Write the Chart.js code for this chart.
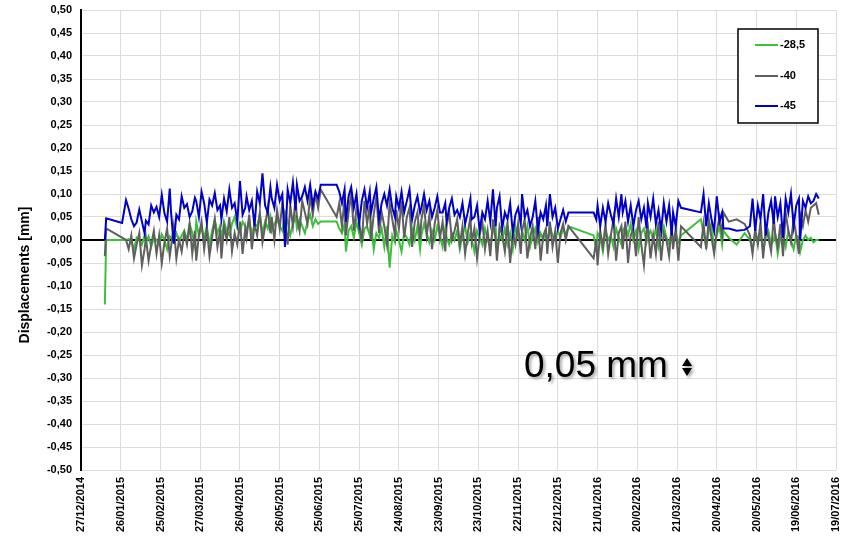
<!DOCTYPE html>
<html>
<head>
<meta charset="utf-8">
<script src="https://cdn.jsdelivr.net/npm/chart.js@4/dist/chart.umd.min.js"></script>
<style>
html, body { margin: 0; padding: 0; background: #fff; }
#cadre { width: 848px; height: 537px; position: relative; }
</style>
</head>
<body>
<div id="cadre"><canvas id="graphique"></canvas></div>
<script>
// Jours de mesure, comptés depuis le 27/12/2014 (origine de l'axe)
const jours = [
    18, 19, 31,
    34, 36, 38, 40, 42, 44, 46, 48, 49, 51, 53, 55,
    57, 59, 61, 63, 65, 67, 68, 70, 72, 74, 76, 78,
    80, 82, 84, 86, 87, 89, 91, 93, 95, 97, 99, 101,
    103, 105, 106, 108, 110, 112, 114, 116, 118, 120, 122, 124,
    125, 127, 129, 131, 133, 135, 137, 139, 141, 143, 144, 146,
    148, 150, 152, 154, 156, 158, 160, 162, 163, 165, 167, 169,
    171, 173, 175, 177, 179, 181,
    193, 195, 197, 199, 200, 202, 204, 206, 208, 210, 212, 214,
    216, 218, 219, 221, 223, 225, 227, 229, 231, 233, 235, 237,
    238, 240, 242, 244, 246, 248, 250, 252, 254, 256, 257, 259,
    261, 263, 265, 267, 269, 271, 273, 275, 276, 278, 280, 282,
    284, 286, 288, 290, 292, 294, 295, 297, 299, 301, 303, 305,
    307, 309, 311, 313, 314, 316, 318, 320, 322, 324, 326, 328,
    330, 332, 333, 335, 337, 339, 341, 343, 345, 347, 349, 351,
    352, 354, 356, 358, 360, 362, 364, 366, 368,
    387, 389, 390, 392, 394, 396, 398, 400, 402, 404, 406, 408,
    409, 411, 413, 415, 417, 419, 421, 423, 425, 427, 428, 430,
    432, 434, 436, 438, 440, 442, 444, 446, 447, 449, 451, 453,
    468, 470, 472, 474, 476, 478, 480, 482, 484, 485,
    489, 495, 501,
    505, 507, 509, 511, 513, 515, 517, 519, 521, 523, 524, 526,
    528, 530, 532, 534, 536, 538, 540, 542, 543, 545, 547, 549,
    551, 553, 555, 557
];

// Capteur -28,5
const serie285 = [
    -0.140, 0.000, 0.000,
    0.000, 0.002, -0.005, -0.020, 0.005, 0.000, -0.010, 0.010, -0.005, 0.008, -0.015, 0.005,
    0.000, -0.010, 0.012, 0.000, -0.020, 0.008, 0.005, 0.000, 0.015, -0.005, 0.010, 0.020,
    0.000, 0.035, 0.015, -0.015, 0.040, 0.010, 0.025, 0.005, 0.030, -0.010, 0.020, 0.045,
    0.015, 0.030, 0.000, 0.040, 0.020, 0.010, 0.035, 0.050, 0.025, 0.015, 0.040, 0.030,
    0.020, 0.045, 0.010, 0.035, 0.030, 0.055, 0.015, 0.040, 0.025, 0.050, 0.020, 0.035,
    0.045, 0.030, 0.020, 0.060, 0.040, 0.010, 0.035, 0.050, 0.025, 0.045, 0.030, 0.015,
    0.040, 0.055, 0.030, 0.045, 0.035, 0.040,
    0.040, 0.025, 0.015, 0.035, -0.025, 0.020, 0.030, 0.005, 0.040, 0.015, -0.010, 0.025,
    0.030, 0.010, 0.035, -0.020, 0.015, 0.005, 0.025, -0.015, 0.030, -0.060, 0.010, -0.005,
    0.020, 0.000, -0.025, 0.015, 0.005, -0.010, 0.025, 0.000, 0.030, -0.020, 0.010, 0.035,
    0.015, -0.005, 0.020, 0.000, 0.030, 0.010, -0.015, 0.025, 0.005, -0.010, 0.015, 0.000,
    0.020, -0.020, 0.010, 0.030, -0.005, 0.015, 0.000, -0.025, 0.020, 0.005, -0.010, 0.025,
    0.000, -0.015, 0.020, 0.030, -0.030, 0.010, 0.000, 0.025, -0.010, 0.015, -0.020, 0.030,
    0.005, -0.005, 0.020, 0.000, 0.030, -0.015, 0.010, 0.025, -0.005, 0.015, 0.000, 0.020,
    -0.010, 0.030, 0.010, 0.000, 0.020, 0.005, 0.025, 0.010, 0.030,
    0.010, -0.020, 0.015, 0.005, -0.025, 0.020, 0.000, 0.010, -0.015, 0.025, 0.005, -0.010,
    0.020, 0.030, 0.010, 0.035, 0.000, 0.020, -0.020, 0.015, 0.025, -0.005, 0.010, 0.020,
    0.000, 0.025, -0.015, 0.010, 0.030, 0.005, -0.010, 0.020, 0.000, 0.015, -0.005, 0.010,
    0.045, 0.015, -0.015, 0.020, 0.035, -0.020, 0.010, 0.030, -0.010, 0.020,
    0.005, -0.010, 0.015,
    0.000, -0.020, 0.010, -0.005, 0.015, -0.025, 0.005, 0.020, -0.010, 0.000, 0.015, -0.030,
    0.005, 0.010, -0.015, 0.020, 0.000, -0.020, 0.010, 0.005, -0.025, 0.000, 0.010, 0.000,
    0.005, -0.005, 0.000, 0.000
];

// Capteur -40
const serie40 = [
    -0.035, 0.025, 0.005,
    0.000, -0.020, 0.010, -0.040, -0.010, 0.015, -0.055, -0.020, 0.005, -0.045, -0.010, 0.020,
    -0.030, 0.010, -0.050, -0.005, 0.025, -0.035, -0.015, 0.030, -0.040, 0.000, -0.025, 0.015,
    -0.010, 0.035, -0.030, 0.020, -0.045, 0.010, 0.040, -0.020, 0.025, -0.035, 0.005, 0.045,
    -0.015, 0.020, -0.040, 0.030, 0.000, 0.050, -0.025, 0.015, -0.010, 0.040, -0.030, 0.025,
    0.005, 0.055, -0.020, 0.035, 0.010, 0.060, -0.005, 0.030, 0.070, 0.015, 0.050, 0.000,
    0.065, 0.025, 0.080, 0.040, -0.010, 0.075, 0.030, 0.090, 0.050, 0.020, 0.085, 0.060,
    0.035, 0.095, 0.055, 0.100, 0.070, 0.110,
    0.050, 0.080, 0.030, 0.090, 0.010, 0.060, 0.100, 0.020, 0.070, 0.040, -0.005, 0.085,
    0.035, 0.075, 0.000, 0.055, 0.095, 0.015, 0.060, 0.030, -0.010, 0.080, 0.045, 0.010,
    0.065, 0.025, 0.085, 0.005, 0.050, 0.070, -0.015, 0.040, 0.060, 0.000, 0.045, 0.075,
    0.010, 0.055, -0.020, 0.035, 0.065, 0.005, 0.040, -0.025, 0.030, 0.060, 0.000, 0.020,
    0.045, -0.010, 0.030, -0.030, 0.015, 0.050, -0.005, 0.025, -0.040, 0.010, 0.040, -0.020,
    0.020, -0.035, 0.045, 0.000, -0.045, 0.030, 0.010, -0.025, 0.040, -0.050, 0.015, -0.010,
    0.035, -0.030, 0.020, 0.045, -0.040, 0.005, 0.030, -0.020, 0.050, -0.045, 0.010, 0.025,
    -0.030, 0.040, -0.015, 0.020, -0.050, 0.015, 0.035, 0.000, 0.030,
    -0.040, 0.000, -0.055, 0.020, -0.015, 0.035, -0.030, 0.010, 0.045, -0.045, 0.015, 0.030,
    -0.020, 0.040, -0.050, 0.010, 0.025, -0.035, 0.050, -0.010, -0.055, 0.020, 0.030, -0.040,
    0.010, -0.030, 0.040, -0.045, 0.015, 0.000, -0.035, 0.030, -0.020, 0.025, -0.045, 0.030,
    -0.015, 0.035, -0.020, 0.045, 0.005, -0.030, 0.020, 0.050, 0.010, 0.060,
    0.040, 0.045, 0.035,
    0.010, -0.030, 0.025, -0.010, 0.040, -0.040, 0.030, 0.005, -0.025, 0.050, 0.015, -0.015,
    0.035, -0.035, 0.060, 0.020, -0.005, 0.045, 0.010, -0.030, 0.055, 0.030, 0.065, 0.040,
    0.070, 0.075, 0.080, 0.055
];

// Capteur -45
const serie45 = [
    0.000, 0.047, 0.037,
    0.087, 0.068, 0.045, 0.030, 0.038, 0.066, 0.040, 0.015, 0.042, 0.034, 0.075, 0.060,
    0.072, 0.050, 0.098, 0.058, 0.040, 0.112, 0.060, -0.008, 0.055, 0.045, 0.095, 0.070,
    0.078, 0.050, 0.062, 0.092, 0.085, 0.050, 0.105, 0.080, 0.038, 0.088, 0.075, 0.102,
    0.065, 0.075, 0.045, 0.090, 0.062, 0.110, 0.070, 0.080, 0.040, 0.128, 0.055, 0.070,
    0.095, 0.065, 0.085, 0.030, 0.105, 0.080, 0.145, 0.075, 0.060, 0.115, 0.090, 0.070,
    0.120, 0.085, 0.100, -0.015, 0.110, 0.080, 0.125, 0.065, 0.120, 0.085, 0.095, 0.115,
    0.085, 0.120, 0.075, 0.105, 0.090, 0.120,
    0.120, 0.105, 0.080, 0.110, 0.040, 0.095, 0.115, 0.070, 0.100, 0.035, 0.085, 0.110,
    0.070, 0.105, 0.060, 0.090, 0.115, 0.045, 0.080, 0.100, 0.075, 0.110, 0.070, 0.050,
    0.095, 0.070, 0.105, 0.060, 0.085, 0.110, 0.045, 0.075, 0.095, 0.060, 0.070, 0.100,
    0.065, 0.085, 0.050, 0.070, 0.095, 0.060, 0.060, 0.080, 0.040, 0.070, 0.090, 0.055,
    0.065, 0.050, 0.080, 0.035, 0.060, 0.090, 0.045, 0.050, 0.075, 0.020, 0.060, 0.045,
    0.085, 0.040, 0.110, 0.030, 0.070, 0.095, 0.025, 0.060, 0.045, 0.080, 0.015, 0.055,
    0.070, 0.035, 0.100, 0.050, 0.065, 0.030, 0.050, 0.085, 0.020, 0.060, 0.045, 0.075,
    0.030, 0.100, 0.050, 0.070, 0.025, 0.045, 0.065, 0.040, 0.060,
    0.060, 0.045, 0.075, 0.030, 0.070, 0.040, 0.080, 0.055, 0.035, 0.090, 0.050, 0.100,
    0.060, 0.085, 0.040, 0.075, 0.030, 0.065, 0.085, 0.045, 0.070, 0.025, 0.080, 0.050,
    0.090, 0.035, 0.065, 0.020, 0.080, 0.040, 0.075, 0.010, 0.060, 0.030, 0.085, 0.070,
    0.060, 0.100, 0.030, 0.080, 0.045, 0.020, 0.095, 0.040, 0.060, 0.025,
    0.025, 0.020, 0.022,
    0.030, 0.090, 0.020, 0.075, 0.045, 0.100, 0.010, 0.060, 0.085, 0.035, 0.095, 0.050,
    0.080, 0.005, 0.090, 0.060, 0.100, 0.030, 0.075, 0.090, 0.000, 0.085, 0.070, 0.095,
    0.080, 0.085, 0.100, 0.090
];

const libelles = ['-28,5', '-40', '-45'];
const couleurs = ['#3cc03c', '#5f5f5f', '#0000c8'];
const series = [serie285, serie40, serie45];

// Axe des dates : un repère tous les 30 jours
const dureeAxe = 570;
const pasJours = 30;

function dateAxe(j) {
    const d = new Date(Date.UTC(2014, 11, 27 + j));
    const dd = String(d.getUTCDate()).padStart(2, '0');
    const mm = String(d.getUTCMonth() + 1).padStart(2, '0');
    return dd + '/' + mm + '/' + d.getUTCFullYear();
}

const police = '"Liberation Sans", Arial, sans-serif';

// Titre vertical, légende encadrée et repère d'échelle
const habillage = {
    id: 'habillage',
    afterDraw(chart) {
        const ctx = chart.ctx;
        ctx.save();

        // titre de l'axe Y
        ctx.translate(25, 275);
        ctx.rotate(-Math.PI / 2);
        ctx.font = 'bold 14px ' + police;
        ctx.fillStyle = '#000';
        ctx.textAlign = 'center';
        ctx.textBaseline = 'middle';
        ctx.fillText('Displacements [mm]', 0, 0);
        ctx.restore();

        // légende
        ctx.save();
        ctx.fillStyle = '#fff';
        ctx.fillRect(738, 29, 80, 94);
        ctx.strokeStyle = '#000';
        ctx.lineWidth = 1.5;
        ctx.strokeRect(738, 29, 80, 94);
        const lignes = [45, 76, 106];
        ctx.font = 'bold 11px ' + police;
        ctx.textBaseline = 'middle';
        chart.data.datasets.forEach((ds, i) => {
            ctx.strokeStyle = ds.borderColor;
            ctx.lineWidth = 2;
            ctx.beginPath();
            ctx.moveTo(755, lignes[i]);
            ctx.lineTo(778, lignes[i]);
            ctx.stroke();
            ctx.fillStyle = '#000';
            ctx.fillText(ds.label, 780, lignes[i]);
        });
        ctx.restore();

        // repère 0,05 mm
        ctx.save();
        ctx.shadowColor = 'rgba(0,0,0,0.35)';
        ctx.shadowBlur = 3;
        ctx.shadowOffsetX = 2;
        ctx.shadowOffsetY = 2;
        ctx.fillStyle = '#000';
        ctx.font = '37px ' + police;
        ctx.textBaseline = 'alphabetic';
        ctx.fillText('0,05 mm', 524, 377);
        ctx.beginPath();
        ctx.moveTo(687, 358); ctx.lineTo(692, 366); ctx.lineTo(682, 366); ctx.closePath();
        ctx.moveTo(682, 368); ctx.lineTo(692, 368); ctx.lineTo(687, 376); ctx.closePath();
        ctx.fill();
        ctx.restore();
    }
};

const ctx = document.getElementById('graphique').getContext('2d');

new Chart(ctx, {
    type: 'line',
    data: {
        datasets: series.map((s, i) => ({
            label: libelles[i],
            data: jours.map((j, k) => ({ x: j, y: s[k] })),
            borderColor: couleurs[i],
            backgroundColor: couleurs[i],
            borderWidth: 2,
            pointRadius: 0,
            tension: 0,
            fill: false,
            order: 2 - i
        }))
    },
    options: {
        responsive: true,
        maintainAspectRatio: false,
        animation: false,
        layout: { padding: { top: 10, right: 12, left: 0, bottom: 0 } },
        plugins: {
            legend: { display: false },
            tooltip: { enabled: false }
        },
        scales: {
            x: {
                type: 'linear',
                min: 0,
                max: dureeAxe,
                afterFit(scale) {
                    scale.height = 67;
                    scale.paddingLeft = 0;
                    scale.paddingRight = 0;
                },
                afterBuildTicks(scale) {
                    scale.ticks = [];
                    for (let j = 0; j <= dureeAxe; j += pasJours) scale.ticks.push({ value: j });
                },
                ticks: {
                    minRotation: 90,
                    maxRotation: 90,
                    autoSkip: false,
                    padding: 7,
                    color: '#000',
                    font: { family: police, size: 11, weight: 'bold' },
                    callback: v => dateAxe(v)
                },
                grid: { color: '#dcdcdc', lineWidth: 1, drawTicks: false },
                border: { display: false }
            },
            y: {
                min: -0.5,
                max: 0.5,
                afterFit(scale) {
                    scale.width = 81;
                    scale.paddingTop = 0;
                    scale.paddingBottom = 0;
                },
                ticks: {
                    stepSize: 0.05,
                    padding: 9,
                    color: '#000',
                    font: { family: police, size: 11, weight: 'bold' },
                    callback: v => (Math.round(v * 100) / 100).toFixed(2).replace('.', ',')
                },
                grid: {
                    drawTicks: false,
                    color: c => Math.abs(c.tick.value) < 1e-9 ? '#000' : '#dcdcdc',
                    lineWidth: c => Math.abs(c.tick.value) < 1e-9 ? 2 : 1
                },
                border: { color: '#000', width: 2 }
            }
        }
    },
    plugins: [habillage]
});
</script>
</body>
</html>
